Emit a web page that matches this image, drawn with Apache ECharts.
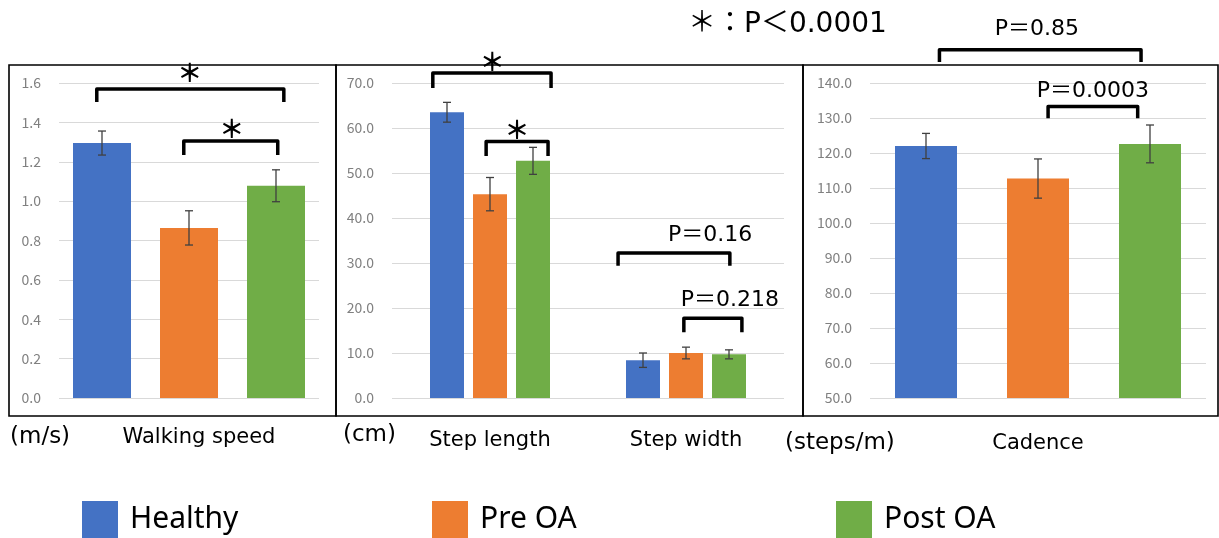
<!DOCTYPE html>
<html>
<head>
<meta charset="utf-8">
<script src="https://cdn.jsdelivr.net/npm/echarts@6/dist/echarts.min.js"></script>
<style>
  html, body { margin: 0; padding: 0; background: #fff; }
  #chart { width: 1219px; height: 538px; }
</style>
</head>
<body>
<div id="chart"></div>
<script>
// groups and colours (Excel default palette)
const groups = ['Healthy', 'Pre OA', 'Post OA']
const colors = ['#4472C4', '#ED7D31', '#70AD47']

// walking speed (m/s)
const speedCats = ['Walking speed']
const speedMean = [[1.295], [0.864], [1.078]]
const speedSD = [[0.061], [0.087], [0.081]]

// step length / step width (cm)
const stepCats = ['Step length', 'Step width']
const stepMean = [[63.5, 8.4], [45.3, 10.0], [52.7, 9.7]]
const stepSD = [[2.2, 1.6], [3.7, 1.3], [3.0, 1.0]]

// cadence (steps/m)
const cadCats = ['Cadence']
const cadMean = [[122.0], [112.7], [122.6]]
const cadSD = [[3.6], [5.6], [5.4]]

// significance brackets: [category, fromBar, toBar, top, legEnd]
const speedBrackets = [[0, -0.06, 2.09, 1.569, 1.503], [0, 0.94, 2.02, 1.305, 1.234]]
const stepBrackets = [[0, -0.33, 2.42, 72.2, 68.9], [0, 0.91, 2.35, 57.0, 53.8],
  [1, -0.58, 2.02, 32.2, 29.4], [1, 0.95, 2.30, 17.7, 14.6]]
const cadBrackets = [[0, 0.12, 1.92, 149.5, 146.0], [0, 1.09, 1.89, 133.3, 129.9]]

// bracket labels: [category, barPos, y] with text
const speedNotes = [[0, 1.01, 1.651], [0, 1.49, 1.371]]
const speedNoteText = ['＊', '＊']
const stepNotes = [[0, 1.05, 74.7], [0, 1.63, 59.6], [1, 1.56, 36.2], [1, 2.02, 21.7]]
const stepNoteText = ['＊', '＊', 'P＝0.16', 'P＝0.218']
const cadNotes = [[0, 0.99, 155.3], [0, 1.49, 137.7]]
const cadNoteText = ['P＝0.85', 'P＝0.0003']

const panels = [
  { cats: speedCats, mean: speedMean, sd: speedSD, brackets: speedBrackets, notes: speedNotes, noteText: speedNoteText,
    grid: { left: 59, top: 83, width: 260, height: 315 }, min: 0, max: 1.6, interval: 0.2, barWidth: 58, gap: 29, labelPad: [0, 0, 0, 20], labelMargin: 29 },
  { cats: stepCats, mean: stepMean, sd: stepSD, brackets: stepBrackets, notes: stepNotes, noteText: stepNoteText,
    grid: { left: 392, top: 83, width: 392, height: 315 }, min: 0, max: 70, interval: 10, barWidth: 34, gap: 9, labelPad: 0, labelMargin: 32 },
  { cats: cadCats, mean: cadMean, sd: cadSD, brackets: cadBrackets, notes: cadNotes, noteText: cadNoteText,
    grid: { left: 870, top: 83, width: 336, height: 315 }, min: 50, max: 140, interval: 10, barWidth: 62, gap: 50, labelPad: 0, labelMargin: 35 },
]

const CJK = '"Noto Sans CJK JP", "Noto Sans", sans-serif'
const LATIN = '"DejaVu Sans", "Noto Sans CJK JP", sans-serif'

function errorBar(offset) {
  return (params, api) => {
    const cat = api.value(0)
    const lo = api.coord([cat, api.value(1)])
    const hi = api.coord([cat, api.value(2)])
    const x = lo[0] + offset
    const style = { stroke: '#404040', lineWidth: 1.3 }
    return {
      type: 'group',
      children: [
        { type: 'line', shape: { x1: x, y1: hi[1], x2: x, y2: lo[1] }, style },
        { type: 'line', shape: { x1: x - 4, y1: hi[1], x2: x + 4, y2: hi[1] }, style },
        { type: 'line', shape: { x1: x - 4, y1: lo[1], x2: x + 4, y2: lo[1] }, style },
      ],
    }
  }
}

function bracket(step) {
  return (params, api) => {
    const cat = api.value(0)
    const top = api.coord([cat, api.value(3)])
    const leg = api.coord([cat, api.value(4)])[1]
    const x0 = top[0] + (api.value(1) - 1) * step
    const x1 = top[0] + (api.value(2) - 1) * step
    return {
      type: 'polyline',
      shape: { points: [[x0, leg], [x0, top[1]], [x1, top[1]], [x1, leg]] },
      style: { stroke: '#000', lineWidth: 3.5, fill: null, lineJoin: 'round' },
    }
  }
}

function note(step, texts) {
  return (params, api) => {
    const cat = api.value(0)
    const p = api.coord([cat, api.value(2)])
    const txt = texts[params.dataIndex]
    const star = txt === '＊'
    return {
      type: 'text',
      x: p[0] + (api.value(1) - 1) * step,
      y: p[1],
      style: {
        text: txt,
        fill: '#000',
        align: 'center',
        verticalAlign: 'middle',
        fontSize: star ? 25 : 22,
        fontWeight: star ? 'bold' : 'normal',
        fontFamily: star ? CJK : LATIN,
      },
    }
  }
}

const grid = []
const xAxis = []
const yAxis = []
const series = []

panels.forEach((p, pi) => {
  const step = p.barWidth + p.gap
  grid.push(p.grid)
  xAxis.push({
    type: 'category', gridIndex: pi, data: p.cats,
    axisLine: { show: false }, axisTick: { show: false },
    axisLabel: { margin: p.labelMargin, fontSize: 21, color: '#000', fontFamily: LATIN, padding: p.labelPad },
  })
  yAxis.push({
    type: 'value', gridIndex: pi, min: p.min, max: p.max, interval: p.interval,
    axisLine: { show: false }, axisTick: { show: false },
    axisLabel: { margin: 18, fontSize: 14, color: '#808080', fontFamily: CJK, formatter: v => v.toFixed(1) },
    splitLine: { lineStyle: { color: '#d9d9d9', width: 1 } },
  })
  groups.forEach((g, gi) => {
    series.push({
      name: g, type: 'bar', xAxisIndex: pi, yAxisIndex: pi,
      data: p.mean[gi], barWidth: p.barWidth, barGap: (p.gap / p.barWidth * 100) + '%',
      itemStyle: { color: colors[gi] },
    })
  })
  groups.forEach((g, gi) => {
    series.push({
      type: 'custom', xAxisIndex: pi, yAxisIndex: pi, z: 5,
      renderItem: errorBar((gi - 1) * step),
      encode: { x: 0, y: [1, 2] },
      data: p.mean[gi].map((m, i) => [i, m - p.sd[gi][i], m + p.sd[gi][i]]),
    })
  })
  series.push({
    type: 'custom', xAxisIndex: pi, yAxisIndex: pi, z: 6, clip: false,
    renderItem: bracket(step), encode: { x: 0, y: 3 }, data: p.brackets,
  })
  series.push({
    type: 'custom', xAxisIndex: pi, yAxisIndex: pi, z: 7, clip: false,
    renderItem: note(step, p.noteText), encode: { x: 0, y: 2 }, data: p.notes,
  })
})

const legendPos = [82, 432, 836]
const legend = groups.map((g, i) => ({
  data: [g], left: legendPos[i], top: 501, padding: 0, icon: 'rect', itemWidth: 36, itemHeight: 37,
  selectedMode: false,
  textStyle: { fontSize: 30, color: '#000', fontFamily: '"Noto Sans", sans-serif', padding: [2, 0, 0, 7] },
}))

const frame = { stroke: '#000', lineWidth: 1.6, fill: null }
const unitStyle = { fontSize: 23, fill: '#000', fontFamily: LATIN, verticalAlign: 'middle' }

const chart = echarts.init(document.getElementById('chart'))
chart.setOption({
  animation: false,
  color: colors,
  title: {
    text: '＊：P＜0.0001', left: 683, top: 6,
    textStyle: { fontSize: 28, fontWeight: 'normal', color: '#000', fontFamily: LATIN },
  },
  legend,
  grid,
  xAxis,
  yAxis,
  series,
  graphic: [
    { type: 'rect', shape: { x: 9, y: 65, width: 327, height: 351 }, style: frame, z: 0 },
    { type: 'rect', shape: { x: 336, y: 65, width: 467, height: 351 }, style: frame, z: 0 },
    { type: 'rect', shape: { x: 803, y: 65, width: 415, height: 351 }, style: frame, z: 0 },
    { type: 'text', x: 10, y: 437, style: Object.assign({ text: '(m/s)' }, unitStyle) },
    { type: 'text', x: 343, y: 435, style: Object.assign({ text: '(cm)' }, unitStyle) },
    { type: 'text', x: 785, y: 443, style: Object.assign({ text: '(steps/m)' }, unitStyle) },
  ],
})
</script>
</body>
</html>
